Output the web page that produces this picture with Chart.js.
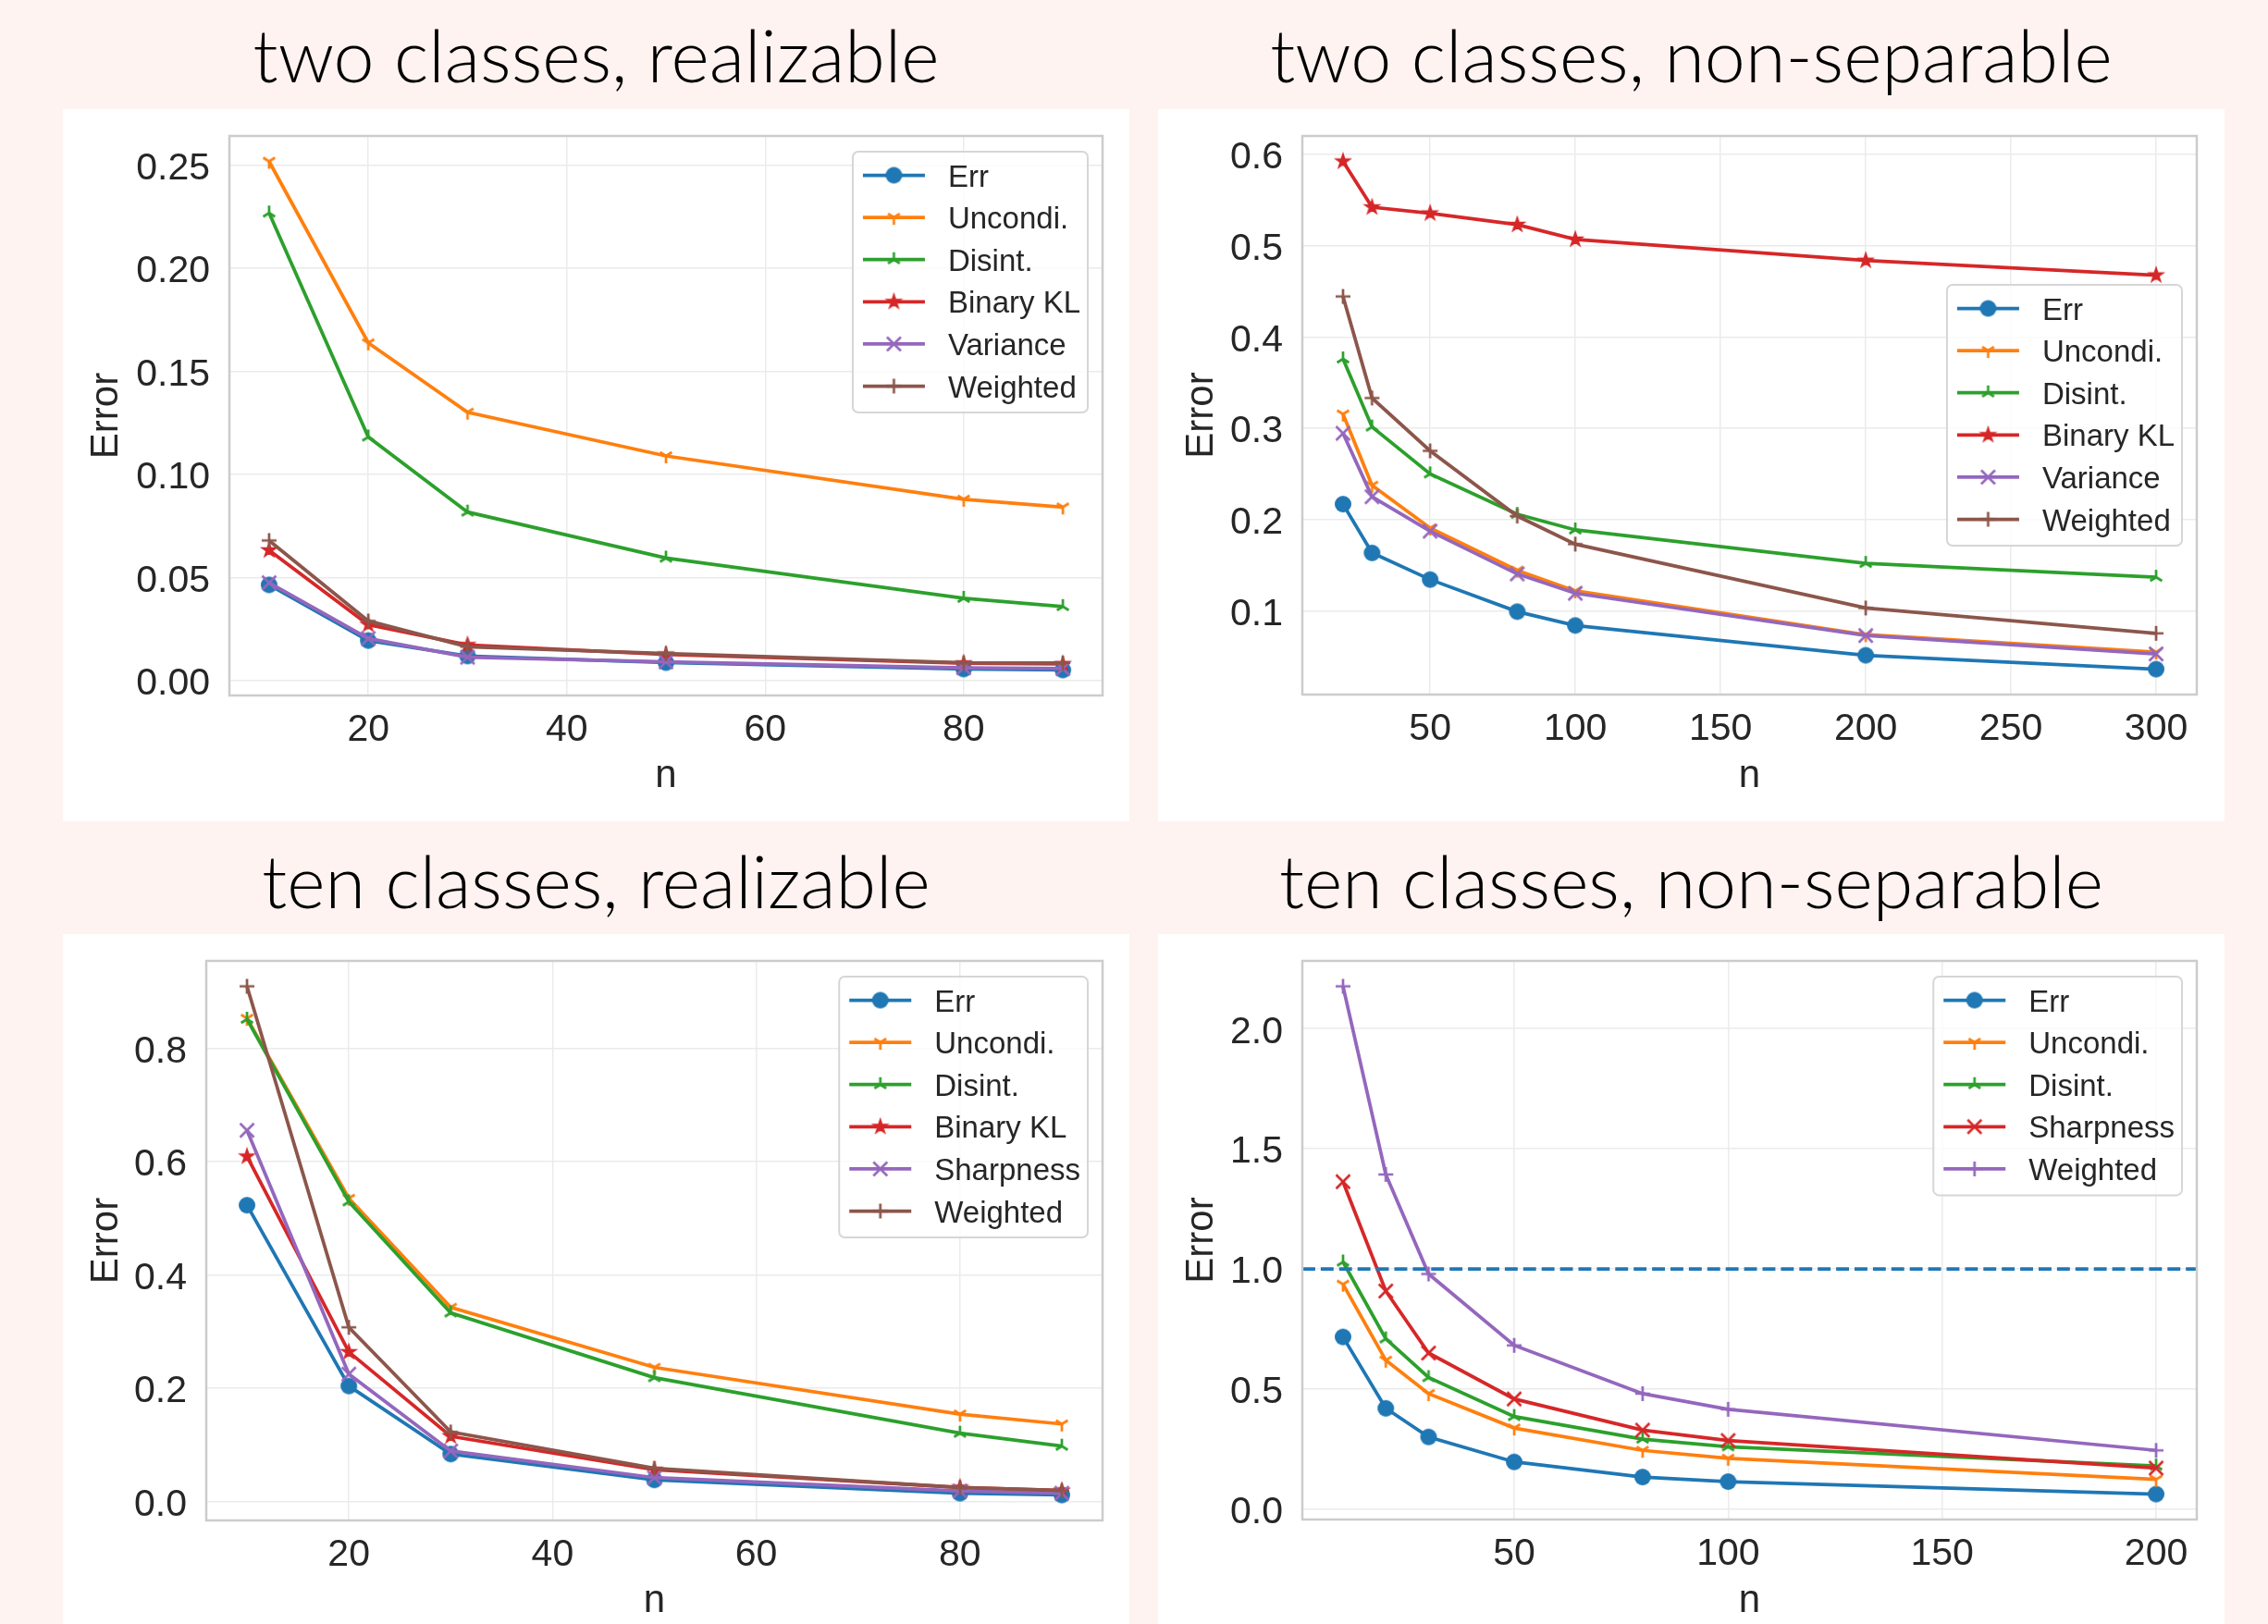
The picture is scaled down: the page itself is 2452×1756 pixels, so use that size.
<!DOCTYPE html>
<html>
<head>
<meta charset="utf-8">
<script src="https://cdn.jsdelivr.net/npm/chart.js@4"></script>
<style>
  html, body { margin: 0; padding: 0; }
  body { width: 2452px; height: 1756px; background: #fef3f0; position: relative; overflow: hidden; }
  .panel { position: absolute; background: #ffffff; }
  .title { position: absolute; text-align: center; font: 300 79px Lato, sans-serif; line-height: 80px; color: #000; white-space: nowrap; }
</style>
</head>
<body>
<div class="title" style="left:68px;top:19px;width:1153px">two classes, realizable</div>
<div class="title" style="left:1252px;top:19px;width:1153px">two classes, non-separable</div>
<div class="title" style="left:68px;top:912px;width:1153px">ten classes, realizable</div>
<div class="title" style="left:1252px;top:912px;width:1153px">ten classes, non-separable</div>
<div class="panel" style="left:68px;top:118px"><canvas id="tl" width="1153" height="770"></canvas></div>
<div class="panel" style="left:1252px;top:118px"><canvas id="tr" width="1153" height="770"></canvas></div>
<div class="panel" style="left:68px;top:1010px"><canvas id="bl" width="1153" height="746"></canvas></div>
<div class="panel" style="left:1252px;top:1010px"><canvas id="br" width="1153" height="746"></canvas></div>
<script>
// two classes, realizable
const tlN = [10, 20, 30, 50, 80, 90];
const tlErr = [0.0465, 0.0195, 0.0120, 0.0088, 0.0057, 0.0052];
const tlUncondi = [0.2518, 0.1638, 0.1302, 0.1090, 0.0880, 0.0842];
const tlDisint = [0.2268, 0.1182, 0.0818, 0.0595, 0.0400, 0.0360];
const tlBinaryKL = [0.0633, 0.0272, 0.0174, 0.0128, 0.0085, 0.0082];
const tlVariance = [0.0475, 0.0205, 0.0114, 0.0092, 0.0063, 0.0059];
const tlWeighted = [0.0680, 0.0290, 0.0165, 0.0132, 0.0087, 0.0086];
const tlXTicks = [20, 40, 60, 80];
const tlYTicks = [0, 0.05, 0.10, 0.15, 0.20, 0.25];

// two classes, non-separable
const trN = [20, 30, 50, 80, 100, 200, 300];
const trErr = [0.2168, 0.1634, 0.1342, 0.0990, 0.0839, 0.0512, 0.0360];
const trUncondi = [0.3155, 0.2375, 0.1906, 0.1443, 0.1217, 0.0738, 0.0547];
const trDisint = [0.3760, 0.3014, 0.2500, 0.2057, 0.1886, 0.1519, 0.1368];
const trBinaryKL = [0.5924, 0.5421, 0.5355, 0.5230, 0.5068, 0.4837, 0.4676];
const trVariance = [0.2944, 0.2249, 0.1871, 0.1403, 0.1191, 0.0728, 0.0527];
const trWeighted = [0.4444, 0.3331, 0.2752, 0.2037, 0.1730, 0.1030, 0.0753];
const trXTicks = [50, 100, 150, 200, 250, 300];
const trYTicks = [0.1, 0.2, 0.3, 0.4, 0.5, 0.6];

// ten classes, realizable
const blN = [10, 20, 30, 50, 80, 90];
const blErr = [0.523, 0.204, 0.084, 0.0384, 0.0149, 0.0118];
const blUncondi = [0.8525, 0.535, 0.3427, 0.2369, 0.1545, 0.137];
const blDisint = [0.851, 0.529, 0.333, 0.2188, 0.1208, 0.098];
const blBinaryKL = [0.609, 0.264, 0.1153, 0.0565, 0.0251, 0.0196];
const blSharpness = [0.655, 0.225, 0.0894, 0.0424, 0.0188, 0.0149];
const blWeighted = [0.909, 0.3075, 0.123, 0.0588, 0.0251, 0.0196];
const blXTicks = [20, 40, 60, 80];
const blYTicks = [0, 0.2, 0.4, 0.6, 0.8];

// ten classes, non-separable
const brN = [10, 20, 30, 50, 80, 100, 200];
const brErr = [0.717, 0.42, 0.301, 0.197, 0.134, 0.115, 0.063];
const brUncondi = [0.936, 0.62, 0.481, 0.338, 0.245, 0.212, 0.124];
const brDisint = [1.029, 0.709, 0.548, 0.386, 0.292, 0.26, 0.18];
const brSharpness = [1.363, 0.908, 0.65, 0.459, 0.329, 0.286, 0.171];
const brWeighted = [2.176, 1.393, 0.979, 0.682, 0.481, 0.416, 0.245];
const brRefLevel = 1.0;
const brXTicks = [50, 100, 150, 200];
const brYTicks = [0, 0.5, 1.0, 1.5, 2.0];

const BLUE = '#1f77b4', ORANGE = '#ff7f0e', GREEN = '#2ca02c', RED = '#d62728', PURPLE = '#9467bd', BROWN = '#8c564b';
const INK = '#262626', GRID = '#ebebeb', FRAME = '#cccccc';
const SANS = '"Liberation Sans", Arial, sans-serif';

// matplotlib-like markers drawn once on small canvases
function makeMarker(kind, color) {
    const c = document.createElement('canvas');
    c.width = 28; c.height = 28;
    const g = c.getContext('2d');
    g.translate(14, 14);
    g.strokeStyle = color;
    g.fillStyle = color;
    g.lineWidth = 2.7;
    const r = 8;
    const seg = (pts) => {
        g.beginPath();
        pts.forEach(p => { g.moveTo(0, 0); g.lineTo(p[0], p[1]); });
        g.stroke();
    };
    if (kind === 'o') {
        g.beginPath(); g.arc(0, 0, 9, 0, Math.PI * 2); g.fill();
    } else if (kind === '1') {
        seg([[0, r], [0.8 * r, -0.5 * r], [-0.8 * r, -0.5 * r]]);
    } else if (kind === '2') {
        seg([[0, -r], [0.8 * r, 0.5 * r], [-0.8 * r, 0.5 * r]]);
    } else if (kind === '*') {
        g.beginPath();
        for (let i = 0; i < 10; i++) {
            const rad = i % 2 ? r * 0.382 : r;
            const a = -Math.PI / 2 + i * Math.PI / 5;
            g.lineTo(rad * Math.cos(a), rad * Math.sin(a));
        }
        g.closePath(); g.fill();
        g.lineWidth = 1.6; g.lineJoin = 'miter'; g.stroke();
    } else if (kind === 'x') {
        const h = 7.5;
        g.beginPath(); g.moveTo(-h, -h); g.lineTo(h, h); g.moveTo(-h, h); g.lineTo(h, -h); g.stroke();
    } else if (kind === '+') {
        g.beginPath(); g.moveTo(-r, 0); g.lineTo(r, 0); g.moveTo(0, -r); g.lineTo(0, r); g.stroke();
    }
    return c;
}

function padRange(lists) {
    const all = [].concat(...lists);
    const lo = Math.min(...all), hi = Math.max(...all);
    const m = (hi - lo) * 0.05;
    return { min: lo - m, max: hi + m };
}

const framePlugin = {
    id: 'frame',
    afterDatasetsDraw(chart, args, opts) {
        const { ctx, chartArea: a, scales } = chart;
        ctx.save();
        if (opts.refLevel !== undefined) {
            const y = scales.y.getPixelForValue(opts.refLevel);
            ctx.beginPath();
            ctx.rect(a.left, a.top, a.width, a.height);
            ctx.clip();
            ctx.strokeStyle = BLUE;
            ctx.lineWidth = 3.75;
            ctx.setLineDash([13.9, 6]);
            ctx.beginPath(); ctx.moveTo(a.left, y); ctx.lineTo(a.right, y); ctx.stroke();
        }
        ctx.restore();
        ctx.save();
        ctx.strokeStyle = FRAME;
        ctx.lineWidth = 2.5;
        ctx.strokeRect(a.left, a.top, a.width, a.height);
        ctx.restore();
    }
};

const boxLegend = {
    id: 'boxLegend',
    afterDraw(chart, args, opts) {
        const { ctx, chartArea: a } = chart;
        const items = chart.data.datasets;
        ctx.save();
        ctx.font = '33px ' + SANS;
        const textW = Math.max(...items.map(d => ctx.measureText(d.label).width));
        const rowH = 45.6;
        const w = 103 + textW + 8;
        const h = 24 + (items.length - 1) * rowH + 30;
        const x = a.right - 16 - w;
        const y = opts.loc === 'center right' ? (a.top + a.bottom) / 2 - h / 2 : a.top + 17;
        ctx.beginPath();
        ctx.roundRect(x, y, w, h, 6);
        ctx.fillStyle = 'rgba(255,255,255,0.8)';
        ctx.fill();
        ctx.strokeStyle = '#d6d6d6';
        ctx.lineWidth = 2;
        ctx.stroke();
        items.forEach((d, i) => {
            const cy = y + 25.5 + i * rowH;
            ctx.strokeStyle = d.borderColor;
            ctx.lineWidth = d.borderWidth;
            ctx.beginPath(); ctx.moveTo(x + 11, cy); ctx.lineTo(x + 78, cy); ctx.stroke();
            const img = d.pointStyle;
            ctx.drawImage(img, x + 44.5 - img.width / 2, cy - img.height / 2);
            ctx.fillStyle = INK;
            ctx.textBaseline = 'middle';
            ctx.textAlign = 'left';
            ctx.fillText(d.label, x + 103, cy + 3);
        });
        ctx.restore();
    }
};

function buildChart(id, p) {
    const canvas = document.getElementById(id);
    const W = canvas.width, H = canvas.height;
    const n = p.series.length;
    const datasets = p.series.map((s, i) => ({
        label: s.label,
        data: p.xs.map((x, k) => ({ x: x, y: s.values[k] })),
        borderColor: s.color,
        backgroundColor: s.color,
        borderWidth: 3.75,
        pointStyle: makeMarker(s.marker, s.color),
        pointRadius: 9,
        tension: 0,
        fill: false,
        order: n - 1 - i
    }));
    const xr = padRange([p.xs]);
    const yr = padRange(p.series.map(s => s.values));
    const plot = p.plot;
    return new Chart(canvas.getContext('2d'), {
        type: 'line',
        data: { datasets: datasets },
        options: {
            responsive: false,
            animation: false,
            events: [],
            layout: { padding: { left: 0, top: plot.top, right: W - plot.right, bottom: 0 } },
            scales: {
                x: {
                    type: 'linear', min: xr.min, max: xr.max,
                    afterBuildTicks: s => { s.ticks = p.xTicks.map(v => ({ value: v })); },
                    afterFit: s => { s.height = H - plot.bottom; s.paddingLeft = 0; s.paddingRight = 0; },
                    grid: { color: GRID, lineWidth: 1.5, drawTicks: false },
                    border: { display: false },
                    ticks: { color: INK, font: { family: SANS, size: 41 }, padding: 13, maxRotation: 0, autoSkip: false,
                        callback: v => String(v) },
                    title: { display: true, text: 'n', color: INK, font: { family: SANS, size: 42 },
                        padding: { top: 0, bottom: H - 25.2 - 721 } }
                },
                y: {
                    type: 'linear', min: yr.min, max: yr.max,
                    afterBuildTicks: s => { s.ticks = p.yTicks.map(v => ({ value: v })); },
                    afterFit: s => { s.width = plot.left; s.paddingTop = 0; s.paddingBottom = 0; },
                    grid: { color: GRID, lineWidth: 1.5, drawTicks: false },
                    border: { display: false },
                    ticks: { color: INK, font: { family: SANS, size: 41 }, padding: 21, labelOffset: 4, autoSkip: false,
                        callback: v => v.toFixed(p.yDecimals) },
                    title: { display: true, text: 'Error', color: INK, font: { family: SANS, size: 42 },
                        padding: { top: 22, bottom: 0 } }
                }
            },
            plugins: {
                legend: { display: false },
                tooltip: { enabled: false },
                frame: { refLevel: p.refLevel },
                boxLegend: { loc: p.legendLoc }
            }
        },
        plugins: [framePlugin, boxLegend]
    });
}

buildChart('tl', {
    xs: tlN, xTicks: tlXTicks, yTicks: tlYTicks, yDecimals: 2, legendLoc: 'upper right',
    plot: { left: 180, top: 29, right: 1124, bottom: 634 },
    series: [
        { label: 'Err', values: tlErr, color: BLUE, marker: 'o' },
        { label: 'Uncondi.', values: tlUncondi, color: ORANGE, marker: '1' },
        { label: 'Disint.', values: tlDisint, color: GREEN, marker: '2' },
        { label: 'Binary KL', values: tlBinaryKL, color: RED, marker: '*' },
        { label: 'Variance', values: tlVariance, color: PURPLE, marker: 'x' },
        { label: 'Weighted', values: tlWeighted, color: BROWN, marker: '+' }
    ]
});

buildChart('tr', {
    xs: trN, xTicks: trXTicks, yTicks: trYTicks, yDecimals: 1, legendLoc: 'center right',
    plot: { left: 156, top: 29, right: 1123, bottom: 633 },
    series: [
        { label: 'Err', values: trErr, color: BLUE, marker: 'o' },
        { label: 'Uncondi.', values: trUncondi, color: ORANGE, marker: '1' },
        { label: 'Disint.', values: trDisint, color: GREEN, marker: '2' },
        { label: 'Binary KL', values: trBinaryKL, color: RED, marker: '*' },
        { label: 'Variance', values: trVariance, color: PURPLE, marker: 'x' },
        { label: 'Weighted', values: trWeighted, color: BROWN, marker: '+' }
    ]
});

buildChart('bl', {
    xs: blN, xTicks: blXTicks, yTicks: blYTicks, yDecimals: 1, legendLoc: 'upper right',
    plot: { left: 155, top: 29, right: 1124, bottom: 634 },
    series: [
        { label: 'Err', values: blErr, color: BLUE, marker: 'o' },
        { label: 'Uncondi.', values: blUncondi, color: ORANGE, marker: '1' },
        { label: 'Disint.', values: blDisint, color: GREEN, marker: '2' },
        { label: 'Binary KL', values: blBinaryKL, color: RED, marker: '*' },
        { label: 'Sharpness', values: blSharpness, color: PURPLE, marker: 'x' },
        { label: 'Weighted', values: blWeighted, color: BROWN, marker: '+' }
    ]
});

buildChart('br', {
    xs: brN, xTicks: brXTicks, yTicks: brYTicks, yDecimals: 1, legendLoc: 'upper right', refLevel: brRefLevel,
    plot: { left: 156, top: 29, right: 1123, bottom: 633 },
    series: [
        { label: 'Err', values: brErr, color: BLUE, marker: 'o' },
        { label: 'Uncondi.', values: brUncondi, color: ORANGE, marker: '1' },
        { label: 'Disint.', values: brDisint, color: GREEN, marker: '2' },
        { label: 'Sharpness', values: brSharpness, color: RED, marker: 'x' },
        { label: 'Weighted', values: brWeighted, color: PURPLE, marker: '+' }
    ]
});
</script>
</body>
</html>
